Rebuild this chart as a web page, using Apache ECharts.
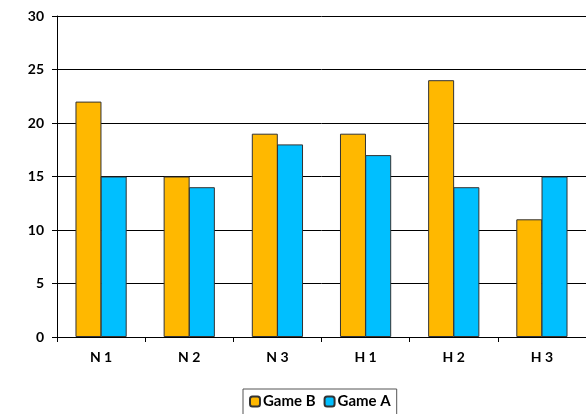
<!DOCTYPE html>
<html>
<head>
<meta charset="utf-8">
<script src="https://cdn.jsdelivr.net/npm/echarts@6/dist/echarts.min.js"></script>
<style>
html, body { margin: 0; padding: 0; background: #fff; }
#chart { width: 586px; height: 414px; }
</style>
</head>
<body>
<div id="chart"></div>
<script>
var categories = ['N 1', 'N 2', 'N 3', 'H 1', 'H 2', 'H 3'];
var gameB = [22, 15, 19, 19, 24, 11];
var gameA = [15, 14, 18, 17, 14, 15];
var yTicks = [0, 5, 10, 15, 20, 25, 30];

var myChart = echarts.init(document.getElementById('chart'));
var font = 'Lato, "DejaVu Sans", sans-serif';
var option = {
    animation: false,
    grid: { left: 57, right: -5, top: 16, bottom: 77 },
    xAxis: {
        type: 'category',
        data: categories,
        axisLine: { lineStyle: { color: '#000', width: 1 } },
        axisTick: { show: true, length: 5, lineStyle: { color: '#000' } },
        axisLabel: { color: '#000', fontFamily: font, fontSize: 14, fontWeight: 'bold', margin: 13 }
    },
    yAxis: {
        type: 'value',
        min: yTicks[0],
        max: yTicks[yTicks.length - 1],
        interval: 5,
        axisLine: { show: true, lineStyle: { color: '#000', width: 1 } },
        axisTick: { show: true, length: 5, lineStyle: { color: '#000' } },
        axisLabel: { color: '#000', fontFamily: font, fontSize: 14, fontWeight: 'bold', margin: 13 },
        splitLine: { lineStyle: { color: '#000', width: 1 } }
    },
    legend: {
        top: 389,
        left: 243,
        itemWidth: 10,
        itemHeight: 10,
        itemGap: 8,
        padding: [5, 6, 10, 6],
        borderColor: '#555',
        borderWidth: 1,
        textStyle: { color: '#000', fontFamily: font, fontSize: 15, fontWeight: 'bold', padding: [0, 0, 0, -2] },
        data: ['Game B', 'Game A']
    },
    series: [
        {
            name: 'Game B',
            type: 'bar',
            data: gameB,
            barWidth: 26,
            barGap: '-3%',
            itemStyle: { color: '#FFB800', borderColor: '#333', borderWidth: 1 }
        },
        {
            name: 'Game A',
            type: 'bar',
            data: gameA,
            barWidth: 26,
            barGap: '-3%',
            itemStyle: { color: '#00BFFF', borderColor: '#333', borderWidth: 1 }
        }
    ]
};
myChart.setOption(option);
</script>
</body>
</html>
